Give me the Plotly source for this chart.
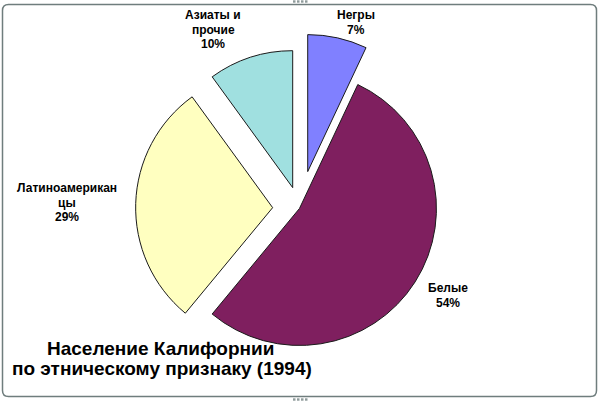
import plotly.graph_objects as go

# ---- data ----
labels = ["Негры", "Белые", "Латиноамериканцы", "Азиаты и прочие"]
values = [7, 54, 29, 10]
label_lines = [["Негры"], ["Белые"], ["Латиноамерикан", "цы"], ["Азиаты и", "прочие"]]
title_lines = ["Население Калифорнии", "по этническому признаку (1994)"]

# ---- style ----
colors = ["#8080FF", "#7F1F5F", "#FFFFC0", "#A0E0E0"]
pulls = [0.276, 0.0, 0.196, 0.16]
W, H = 602, 401
# label centres (px) of first line, per slice
label_pos = [(356, 15), (448, 288), (67, 188), (213, 15)]
line_step = 14.5
title_pos = [(161, 348), (162, 368)]

FONT = "Liberation Sans, Arial, sans-serif"

fig = go.Figure(go.Pie(
    labels=labels, values=values, sort=False, direction="clockwise", rotation=0,
    pull=pulls, textinfo="none", hoverinfo="label+percent",
    marker=dict(colors=colors, line=dict(color="#1a1a1a", width=1)),
    domain=dict(x=[0.2071, 0.7878], y=[0.0441, 0.9160]),
    showlegend=False,
))

def px(x):
    return x / W

def py(y):
    return 1 - y / H

annotations = []
for i, lines in enumerate(label_lines):
    all_lines = lines + [f"{values[i]}%"]
    x0, y0 = label_pos[i]
    for k, t in enumerate(all_lines):
        annotations.append(dict(
            x=px(x0), y=py(y0 + k * line_step), xref="paper", yref="paper",
            text=t, showarrow=False, xanchor="center", yanchor="middle",
            font=dict(family=FONT, size=12, color="black", weight="bold"),
        ))
for (x0, y0), t in zip(title_pos, title_lines):
    annotations.append(dict(
        x=px(x0), y=py(y0), xref="paper", yref="paper", text=t,
        showarrow=False, xanchor="center", yanchor="middle",
        font=dict(family=FONT, size=19, color="black", weight="bold"),
    ))

# chart-area frame with rounded corners
L, T, R, B = 2.5, 4.5, 596.5, 396.5
rr = 6
path = (f"M {px(L+rr)} {py(T)} L {px(R-rr)} {py(T)} Q {px(R)} {py(T)} {px(R)} {py(T+rr)} "
        f"L {px(R)} {py(B-rr)} Q {px(R)} {py(B)} {px(R-rr)} {py(B)} "
        f"L {px(L+rr)} {py(B)} Q {px(L)} {py(B)} {px(L)} {py(B-rr)} "
        f"L {px(L)} {py(T+rr)} Q {px(L)} {py(T)} {px(L+rr)} {py(T)} Z")
shapes = [dict(type="path", path=path, xref="paper", yref="paper",
               line=dict(color="#6F7D7D", width=1.5))]
# selection handles (small dots)
for hy in (1.5, 399.5):
    for hx in (293, 297, 301, 305):
        shapes.append(dict(type="rect", xref="paper", yref="paper",
                           x0=px(hx), x1=px(hx + 2.5), y0=py(hy - 1.2), y1=py(hy + 1.2),
                           line=dict(width=0), fillcolor="#8E9A9A"))

fig.update_layout(
    width=W, height=H, margin=dict(l=0, r=0, t=0, b=0),
    paper_bgcolor="white", plot_bgcolor="white",
    annotations=annotations, shapes=shapes,
)

fig.write_html("out.html", config={"displayModeBar": False},
               post_script="document.body.style.margin='0px';")
